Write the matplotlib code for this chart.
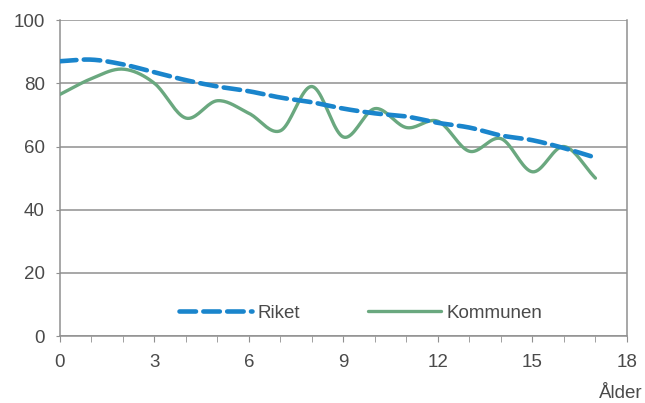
import numpy as np
import matplotlib
matplotlib.use('Agg')
import matplotlib.pyplot as plt
from matplotlib.ticker import MultipleLocator

plt.rcParams['font.family'] = ['Liberation Sans', 'DejaVu Sans']

# Values (age 0..17)
ages = list(range(18))
riket = [87, 87.5, 86, 83.5, 81, 79, 77.5, 75.5, 74, 72, 70.5, 69.5, 67.5, 66, 63.5, 62, 59.5, 56.5]
kommunen = [76.5, 81.5, 84.5, 80, 69, 74.5, 70.5, 65, 79, 63, 72, 66, 68, 58.5, 62.5, 52, 60, 50]

x_ticks = [0, 3, 6, 9, 12, 15, 18]
y_ticks = [0, 20, 40, 60, 80, 100]


def smooth(x, y, n=20):
    # Catmull-Rom curve through the points, like Excel's smoothed line
    x = np.asarray(x, float)
    y = np.asarray(y, float)
    px = np.concatenate([[2 * x[0] - x[1]], x, [2 * x[-1] - x[-2]]])
    py = np.concatenate([[2 * y[0] - y[1]], y, [2 * y[-1] - y[-2]]])
    xs, ys = [], []
    t = np.linspace(0, 1, n, endpoint=False)
    for i in range(1, len(px) - 2):
        for p, out in ((px, xs), (py, ys)):
            p0, p1, p2, p3 = p[i - 1], p[i], p[i + 1], p[i + 2]
            out.extend(0.5 * (2 * p1 + (-p0 + p2) * t
                              + (2 * p0 - 5 * p1 + 4 * p2 - p3) * t ** 2
                              + (-p0 + 3 * p1 - 3 * p2 + p3) * t ** 3))
    xs.append(x[-1])
    ys.append(y[-1])
    return np.array(xs), np.array(ys)


BLUE = '#1a85cc'
GREEN = '#6aa87f'
GRID = '#909090'
TXT = '#4a4a4a'
FS = 13.5

fig = plt.figure(figsize=(6.45, 4.03), dpi=100)
ax = fig.add_axes([0.093, 0.166, 0.879, 0.784])

kx, ky = smooth(ages, kommunen)
rx, ry = smooth(ages, riket)
ax.plot(kx, ky, color=GREEN, lw=2.4, label='Kommunen', zorder=3, solid_capstyle='round')
ax.plot(rx, ry, color=BLUE, lw=3.3, dashes=(3.6, 1.6), label='Riket', zorder=4,
        dash_capstyle='round')

ax.set_xlim(0, 18)
ax.set_ylim(0, 100)
ax.set_xticks(x_ticks)
ax.set_yticks(y_ticks)
ax.xaxis.set_minor_locator(MultipleLocator(1))
ax.yaxis.grid(True, color=GRID, lw=1.1)
ax.set_axisbelow(True)

for side in ['left', 'right', 'bottom']:
    ax.spines[side].set_color(GRID)
    ax.spines[side].set_linewidth(1.1)
ax.spines['top'].set_visible(False)

ax.tick_params(axis='x', which='both', direction='out', length=4, color=GRID, labelsize=FS,
               labelcolor=TXT, pad=9)
ax.tick_params(axis='y', which='both', direction='out', length=3, color=GRID, labelsize=FS,
               labelcolor=TXT, pad=8)

handles, labels = ax.get_legend_handles_labels()
ax.legend(handles[::-1], labels[::-1], loc='center', bbox_to_anchor=(0.53, 0.073), ncol=2,
          frameon=False, handlelength=3.9, columnspacing=3.6, handletextpad=0.3,
          fontsize=FS, labelcolor=TXT)

fig.text(0.962, 0.012, 'Ålder', ha='center', va='baseline', fontsize=FS, color=TXT)

plt.savefig('out.png', dpi=100)
plt.close()
